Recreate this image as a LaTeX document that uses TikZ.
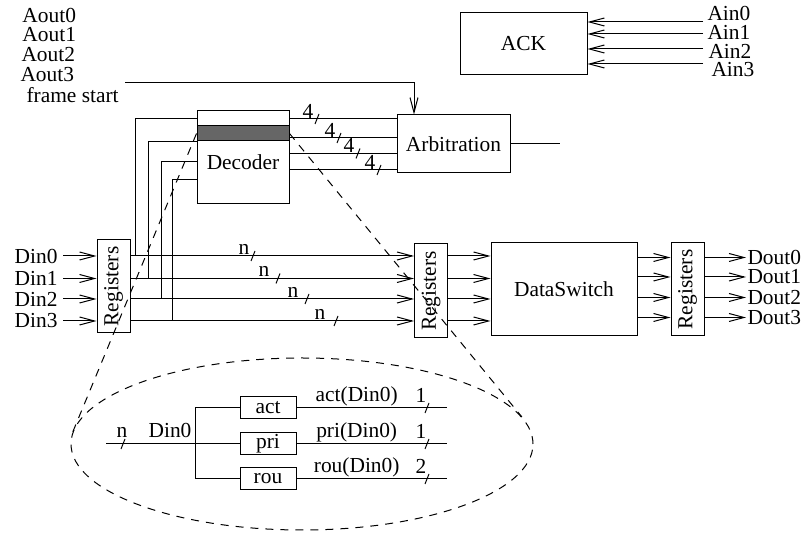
\documentclass[tikz,border=0pt]{standalone}
\usepackage{fontspec}
\setmainfont{Liberation Serif}
\usepackage{tikz}
\usetikzlibrary{arrows.meta, shapes.geometric}

\begin{document}
\begin{tikzpicture}[
  x=0.5pt, y=-0.5pt,
  font=\fontsize{10.7}{12}\selectfont,
  line width=0.5pt,
  blk/.style={
    draw,
    rectangle,
    inner sep=0pt
  },
  regbox/.style={blk, minimum width=16.5pt, minimum height=46.5pt,
    label={[rotate=90]center:Registers}},
  smallbox/.style={blk, minimum width=28pt, minimum height=11pt},
  txt/.style={inner sep=0pt},
  arr/.style={-{Straight Barb[length=7.5pt, width=4pt]}},
  zoomline/.style={dash pattern=on 4pt off 3.5pt}
]
\useasboundingbox (0,0) rectangle (804,533);

% Blocs
\node[blk, minimum width=63.5pt, minimum height=31pt] (ack) at (523.5,44) {ACK};
\node[blk, minimum width=46pt, minimum height=46.5pt,
  label={[yshift=-2.25pt]center:Decoder}] (dec) at (243,157.5) {};
\node[blk, fill=black!60, minimum width=46pt, minimum height=7.5pt, anchor=north]
  (band) at ([yshift=-7.5pt]dec.north) {};
\node[blk, minimum width=56.5pt, minimum height=29pt] (arb) at (453.5,144) {Arbitration};
\node[regbox] (rl) at (113.5,286.5) {};
\node[regbox, minimum height=47pt] (rm) at (431,291) {};
\node[blk, minimum width=73pt, minimum height=46.5pt] (ds) at (564,289.5) {DataSwitch};
\node[regbox] (rr) at (687.5,289.5) {};

% Etiquettes
\foreach \i/\x/\y in {0/22/15, 1/22/35, 2/21/55, 3/20/75}
  \node[txt, anchor=west] (aout\i) at (\x,\y) {Aout\i};
\node[txt, anchor=west] (fstart) at (26,95) {frame start};
\foreach \i/\y/\x/\ly in {0/22/707/13, 1/34/707/32, 2/49/708/51, 3/64/711/70} {
  \coordinate (ain\i) at (703,\y);
  \node[txt, anchor=west] (ainl\i) at (\x,\ly) {Ain\i};
}
\foreach \i/\y in {0/256, 1/278.5, 2/299, 3/321} {
  \coordinate (r\i) at (0,\y);
  \node[anchor=east, inner sep=2.5pt] (din\i) at (63,\y) {Din\i};
}
\foreach \i/\y in {0/257.5, 1/277, 2/297.5, 3/317.5} {
  \coordinate (q\i) at (0,\y);
  \node[anchor=west, inner sep=0.5pt] (dout\i) at (746,\y) {Dout\i};
}

% Fleches
\foreach \i in {0,...,3}
  \draw[arr] (ain\i) -- (ain\i -| ack.east);
\coordinate (fs) at (125,83);
\draw[arr] (fs) -| ([xshift=-19.75pt]arb.north);
\coordinate (arbo) at (560,144);
\draw (arb.east) -- (arbo);

\foreach \i/\y in {0/119, 1/138, 2/153.5, 3/170} {
  \coordinate (b\i) at (0,\y);
  \draw (dec.east |- b\i) -- (arb.west |- b\i);
}
\foreach \x/\y in {317/119, 339/138, 358/153.5, 379/170} {
  \draw (\x,\y) ++(-2,5) -- ++(4,-10);
  \node[txt] at (\x-9,\y-8) {4};
}

\foreach \i in {0,...,3} {
  \draw[arr] (din\i.east) -- (din\i.east -| rl.west);
  \draw[arr] (rl.east |- r\i) -- (rm.west |- r\i);
  \draw[arr] (rm.east |- r\i) -- (ds.west |- r\i);
  \draw[arr] (ds.east |- q\i) -- (rr.west |- q\i);
  \draw[arr] (rr.east |- q\i) -- (dout\i.west);
}
\foreach \x/\y/\lx in {253/256/244, 278/278.5/264, 307/299/293, 336/321/320} {
  \draw (\x,\y) ++(-2,5) -- ++(4,-10);
  \node[txt] at (\lx,\y-7) {n};
}

% Decoder inputs
\foreach \i/\y/\x in {0/119/135, 1/142/148, 2/162/161, 3/180/172} {
  \coordinate (f\i) at (0,\y);
  \coordinate (t\i) at (\x,0);
  \draw (dec.west |- f\i) -| (t\i |- r\i);
}

% Zoom
\node[draw, ellipse, zoomline, minimum width=231pt, minimum height=86pt, inner sep=0pt]
  (zoom) at (302,444) {};
\draw[zoomline] (band.west) -- (zoom.177);
\draw[zoomline] (band.east) -- (zoom.7);

\node[smallbox] (act) at (268,408) {act};
\node[smallbox] (pri) at (268,444) {pri};
\node[smallbox] (rou) at (268,479) {rou};
\coordinate (zin) at (106,444);
\coordinate (jn) at (195,444);
\node[txt] (dlab) at (170,430) {Din0};
\draw (zin) -- (jn);
\draw (jn) |- (act.west);
\draw (jn) -- (pri.west);
\draw (jn) |- (rou.west);
\draw (123,444) ++(-2,5) -- ++(4,-10);
\node[txt] at (122,432) {n};

\coordinate (acto) at (447,408);
\coordinate (prio) at (447,444);
\coordinate (rouo) at (447,479);
\draw (act.east) -- (acto) node[pos=0.4, above, inner sep=0.5pt] {act(Din0)};
\draw (pri.east) -- (prio) node[pos=0.4, above, inner sep=0.5pt] {pri(Din0)};
\draw (rou.east) -- (rouo) node[pos=0.4, above, inner sep=0.5pt] {rou(Din0)};
\foreach \y/\b in {408/1, 444/1, 479/2} {
  \draw (427,\y) ++(-2,5) -- ++(4,-10);
  \node[txt] at (421,\y-13) {\b};
}

\end{tikzpicture}
\end{document}
